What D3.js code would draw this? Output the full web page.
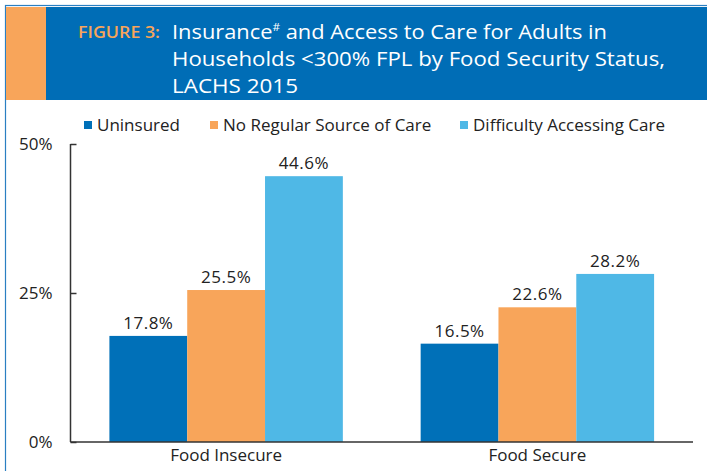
<!DOCTYPE html>
<html>
<head>
<meta charset="utf-8">
<script src="https://cdn.jsdelivr.net/npm/d3@7"></script>
<style>
  body { margin: 0; background: #fff; }
  text { font-family: "Open Sans", sans-serif; }
</style>
</head>
<body>
<svg width="707" height="471"></svg>
<script>
// data
const groups = ["Food Insecure", "Food Secure"];
const seriesNames = ["Uninsured", "No Regular Source of Care", "Difficulty Accessing Care"];
const uninsured = [17.8, 16.5];
const noRegular = [25.5, 22.6];
const difficulty = [44.6, 28.2];
const yTicks = [0, 25, 50];
const titleLines = ["Insurance# and Access to Care for Adults in", "Households <300% FPL by Food Security Status,", "LACHS 2015"];

const colors = ["#0070b8", "#f8a55a", "#4fb8e6"];
const seriesValues = [uninsured, noRegular, difficulty];

const svg = d3.select("svg"),
  width = +svg.attr("width"),
  height = +svg.attr("height");

// frame + header
svg.append("rect").attr("x", 5.5).attr("y", 5.5).attr("width", width).attr("height", height)
  .attr("fill", "none").attr("stroke", "#2a7fc2").attr("stroke-width", 1.2);
svg.append("rect").attr("x", 6).attr("y", 7).attr("width", width).attr("height", 93).attr("fill", "#006db6");
svg.append("rect").attr("x", 6).attr("y", 7).attr("width", 40).attr("height", 93).attr("fill", "#f8a55a");

svg.append("text").attr("x", 78).attr("y", 38)
  .attr("fill", "#f8a55a").attr("font-size", 17).attr("font-weight", 600)
  .attr("textLength", 82).attr("lengthAdjust", "spacingAndGlyphs")
  .text("FIGURE 3:");

const titleWidths = [435, 493, 126];
titleLines.forEach((t, i) => {
  const tx = svg.append("text").attr("x", 172).attr("y", 39 + i * 27)
    .attr("fill", "#fff").attr("font-size", 20.5)
    .attr("textLength", titleWidths[i]).attr("lengthAdjust", "spacingAndGlyphs");
  if (i === 0) {
    tx.append("tspan").text("Insurance");
    tx.append("tspan").attr("font-size", 11).attr("dy", -8).text("#");
    tx.append("tspan").attr("dy", 8).text(" and Access to Care for Adults in");
  } else {
    tx.text(t);
  }
});

// legend
const legendX = [84, 210, 460];
seriesNames.forEach((s, i) => {
  svg.append("rect").attr("x", legendX[i]).attr("y", 121).attr("width", 8).attr("height", 8).attr("fill", colors[i]);
  svg.append("text").attr("x", legendX[i] + 13).attr("y", 130.5)
    .attr("font-size", 17).attr("fill", "#222").text(s);
});

// scales
const margin = {left: 70.5, right: 14, top: 144, bottom: 442};
const x0 = d3.scaleBand().domain(groups).range([margin.left, width - margin.right])
  .paddingInner(0.25).paddingOuter(0.125);
const x1 = d3.scaleBand().domain(d3.range(seriesNames.length)).range([0, x0.bandwidth()]);
const y = d3.scaleLinear().domain([0, 50]).range([margin.bottom, margin.top]);

// bars
groups.forEach((g, gi) => {
  seriesValues.forEach((vals, si) => {
    const v = vals[gi];
    svg.append("rect")
      .attr("x", x0(g) + x1(si))
      .attr("y", y(v))
      .attr("width", x1.bandwidth())
      .attr("height", y(0) - y(v))
      .attr("fill", colors[si]);
    svg.append("text")
      .attr("x", x0(g) + x1(si) + x1.bandwidth() / 2)
      .attr("y", y(v) - 7)
      .attr("text-anchor", "middle").attr("font-size", 17).attr("letter-spacing", 0.5)
      .attr("fill", "#222")
      .text(v.toFixed(1) + "%");
  });
});

// y axis
const yAxis = svg.append("g").attr("transform", `translate(${margin.left},0)`)
  .call(d3.axisLeft(y).tickValues(yTicks).tickSize(-6).tickPadding(18).tickFormat(d => d + "%"));
yAxis.select(".domain").attr("stroke", "#333").attr("stroke-width", 1.5).attr("d", `M0,${margin.top}V${margin.bottom}`);
yAxis.selectAll(".tick line").attr("stroke", "#333").attr("stroke-width", 1.5);
yAxis.selectAll(".tick text").attr("font-size", 17).attr("fill", "#222")
  .attr("font-family", "Open Sans, sans-serif");

// x axis
const xAxis = svg.append("g").attr("transform", `translate(0,${margin.bottom})`)
  .call(d3.axisBottom(x0).tickSize(0).tickPadding(7));
xAxis.select(".domain").attr("stroke", "#333").attr("stroke-width", 1.5)
  .attr("d", `M${margin.left},0H${width - margin.right}`);
xAxis.selectAll(".tick text").attr("font-size", 17).attr("fill", "#222")
  .attr("font-family", "Open Sans, sans-serif");
</script>
</body>
</html>
